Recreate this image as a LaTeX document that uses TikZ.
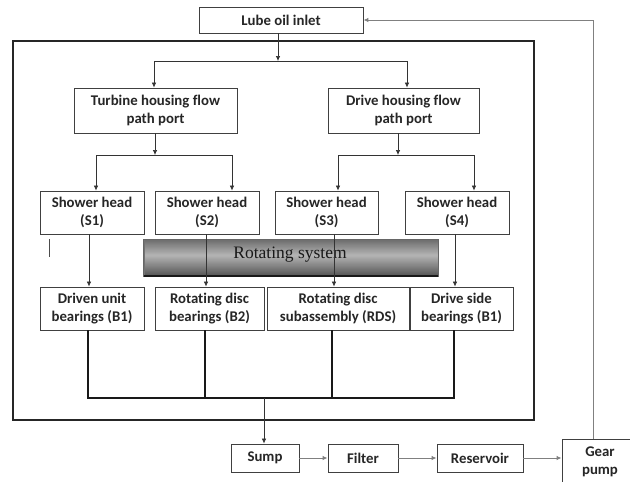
\documentclass[tikz,border=0pt]{standalone}
\usepackage{fontspec}
\newfontfamily\boxfont{Carlito}[Ligatures=NoCommon]
\newfontfamily\timesfont{Liberation Serif}
\usetikzlibrary{arrows.meta}
\begin{document}
\begin{tikzpicture}[x=1pt,y=-1pt,
  box/.style={draw=black!75, line width=0.8pt, inner sep=0pt, align=center,
    font=\boxfont\bfseries\fontsize{14.8}{18}\selectfont, text=black!85, fill=white},
  sz/.style 2 args={minimum width=#1pt, minimum height=#2pt},
  flow/.style={draw=black!80, line width=0.7pt, -{Latex[length=5pt,width=4.5pt]}},
  conn/.style={draw=black!80, line width=0.7pt},
  coll/.style={draw=black!90, line width=1.1pt},
  gflow/.style={draw=black!50, line width=1pt, -{Latex[length=5pt,width=4.5pt]}},
  frame/.style={draw=black!85, line width=1.6pt},
]
\useasboundingbox (0,0) rectangle (630,482);
\clip (0,0) rectangle (630,482);
\fill[white] (0,0) rectangle (630,482);

% system frame
\draw[frame] (13,41) rectangle (534,420);

% boxes
\node[box, sz={164}{26}] (inlet) at (281,20) {Lube oil inlet};
\node[box, sz={163}{45}] (turb) at (155.5,110.5) {Turbine housing flow\\path port};
\node[box, sz={151}{45}] (drive) at (403.5,110.5) {Drive housing flow\\path port};

\node[box, sz={104}{43}] (s1) at (92,212.5) {Shower head\\(S1)};
\node[box, sz={104}{43}] (s2) at (207,212.5) {Shower head\\(S2)};
\node[box, sz={103}{43}] (s3) at (326.5,212.5) {Shower head\\(S3)};
\node[box, sz={104}{43}] (s4) at (457,212.5) {Shower head\\(S4)};

\node[box, sz={104}{43}] (b1) at (92,308.5) {Driven unit\\bearings (B1)};
\node[box, sz={109}{43}] (b2) at (209.5,308.5) {Rotating disc\\bearings (B2)};
\node[box, sz={142}{43}] (rds) at (338,308.5) {Rotating disc\\subassembly (RDS)};
\node[box, sz={103}{43}] (ds) at (461.5,308.5) {Drive side\\bearings (B1)};

\node[box, sz={68}{28}] (sump) at (265,458) {Sump};
\node[box, sz={70}{28}] (filter) at (363,458) {Filter};
\node[box, sz={86}{28}] (res) at (480,458) {Reservoir};
\node[box, sz={76}{45}] (gear) at (600,461.5) {Gear\\pump};

% rotating system bar (vertical gradient built from thin bands)
\foreach \t in {0,...,35}{
  \pgfmathsetmacro\v{int(30+34*abs(\t-16)/19)}
  \fill[black!\v] (143,239+\t) rectangle (438,240.2+\t);
}
\fill[black!55] (143,239) rectangle (145,276);
\draw[black!60, line width=0.6pt] (143,239) rectangle (438,276);
\draw[black!90, line width=2.2pt] (144,276) -- (438,276);
\node[font=\timesfont\fontsize{17.5}{20}\selectfont, text=black!90] (rot) at (290,254.5) {Rotating system};

% stray mark
\draw[black!70, line width=0.8pt] (49,239) -- (49,257);

% inlet split
\coordinate (j0) at (278,61);
\coordinate (jt) at (154,61);
\coordinate (jd) at (407,61);
\draw[flow] (inlet.south -| j0) -- (j0);
\draw[conn] (jt) -- (jd);
\draw[flow] (jt) -- (turb.north -| jt);
\draw[flow] (jd) -- (drive.north -| jd);

% left split
\coordinate (k0) at (155,155);
\coordinate (k1) at (96,155);
\coordinate (k2) at (232,155);
\draw[flow] (turb.south -| k0) -- (k0);
\draw[conn] (k1) -- (k2);
\draw[flow] (k1) -- (s1.north -| k1);
\draw[flow] (k2) -- (s2.north -| k2);

% right split
\coordinate (m0) at (398,155);
\coordinate (m1) at (338,155);
\coordinate (m2) at (474,155);
\draw[flow] (drive.south -| m0) -- (m0);
\draw[conn] (m1) -- (m2);
\draw[flow] (m1) -- (s3.north -| m1);
\draw[flow] (m2) -- (s4.north -| m2);

% shower heads to bearings
\coordinate (a1) at (89,0);
\coordinate (a2) at (206,0);
\coordinate (a3) at (334,0);
\coordinate (a4) at (455,0);
\draw[flow] (s1.south -| a1) -- (b1.north -| a1);
\draw[flow] (s2.south -| a2) -- (b2.north -| a2);
\draw[flow] (s3.south -| a3) -- (rds.north -| a3);
\draw[flow] (s4.south -| a4) -- (ds.north -| a4);

% collector
\coordinate (c1) at (88,398);
\coordinate (c2) at (205,398);
\coordinate (c3) at (332,398);
\coordinate (c4) at (454,398);
\coordinate (cs) at (264,398);
\draw[coll] (b1.south -| c1) -- (c1) -- (c4) -- (ds.south -| c4);
\draw[coll] (b2.south -| c2) -- (c2);
\draw[coll] (rds.south -| c3) -- (c3);
\draw[flow] (cs) -- (sump.north -| cs);

% return loop
\draw[gflow] (sump.east) -- (filter.west);
\draw[gflow] (filter.east) -- (res.west);
\draw[gflow] (res.east) -- (gear.west |- res.east);
\coordinate (fb) at (593,20);
\draw[gflow] (gear.north -| fb) -- (fb) -- (inlet.east);
\end{tikzpicture}
\end{document}
